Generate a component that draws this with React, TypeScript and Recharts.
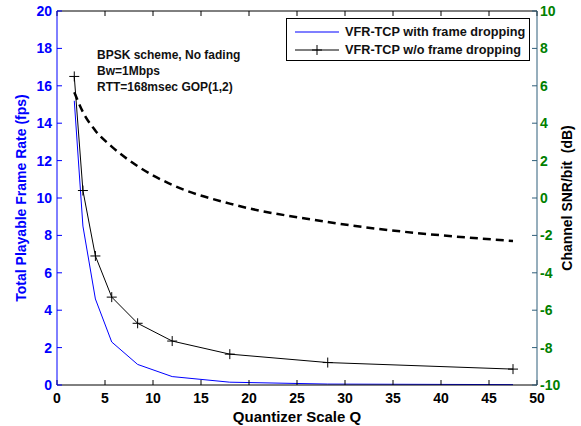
import React from 'react';
import { LineChart, Line, XAxis, YAxis, Label } from 'recharts';

// quantizer scale Q (x) and the three curves
const qValues = [1.8, 2.7, 4.0, 5.7, 8.4, 12.0, 18.0, 28.2, 47.5];
const withDropping = [15.2, 8.5, 4.6, 2.3, 1.1, 0.45, 0.15, 0.05, 0.02];
const withoutDropping = [16.5, 10.4, 6.9, 4.7, 3.3, 2.35, 1.65, 1.2, 0.85];
const snrDb = [5.65, 4.6, 3.6, 2.75, 1.7, 0.7, -0.3, -1.28, -2.3];

const xTicks = [0, 5, 10, 15, 20, 25, 30, 35, 40, 45, 50];
const leftTicks = [0, 2, 4, 6, 8, 10, 12, 14, 16, 18, 20];
const rightTicks = [-10, -8, -6, -4, -2, 0, 2, 4, 6, 8, 10];

const notes = ['BPSK scheme, No fading', 'Bw=1Mbps', 'RTT=168msec GOP(1,2)'];
const legendNames = ['VFR-TCP with frame dropping', 'VFR-TCP w/o frame dropping'];

const data = qValues.map((q, i) => ({
  q,
  withDrop: withDropping[i],
  withoutDrop: withoutDropping[i],
  snr: snrDb[i],
}));

const FONT = "'Liberation Sans', Arial, sans-serif";
const BLUE = '#0000ff';
const GREEN = '#008000';
const RIGHT_AXIS = '#2f5f7a';

const PlusDot = (props: any) => {
  const { cx, cy, index } = props;
  if (cx == null || cy == null) return <g key={`p-${index}`} />;
  return (
    <path
      key={`p-${index}`}
      d={`M${cx - 5},${cy}h10M${cx},${cy - 5}v10`}
      stroke="#000"
      strokeWidth={1}
      fill="none"
    />
  );
};

const RotatedLabel = (text: string, dx: number, color: string) => (props: any) => {
  const vb = props.viewBox;
  const x = vb.x + dx;
  const y = vb.y + vb.height / 2;
  return (
    <text
      x={x}
      y={y}
      transform={`rotate(-90 ${x} ${y})`}
      textAnchor="middle"
      dominantBaseline="central"
      fill={color}
      fontSize={14}
      fontWeight="bold"
      fontFamily={FONT}
    >
      {text}
    </text>
  );
};

export default function App() {
  return (
    <div
      style={{
        position: 'absolute',
        left: 0,
        top: 0,
        width: 581,
        height: 426,
        background: '#fff',
        fontFamily: FONT,
      }}
    >
      <LineChart width={581} height={426} data={data} margin={{ top: 0, right: 0, bottom: 0, left: 0 }}>
        <XAxis
          dataKey="q"
          type="number"
          domain={[0, 50]}
          ticks={xTicks}
          interval={0}
          stroke="#000"
          height={41}
          tickSize={-5}
          tickMargin={13}
          tick={{ fill: '#000', fontSize: 14, fontWeight: 'bold', fontFamily: FONT }}
        >
          <Label
            value="Quantizer Scale Q"
            position="insideBottom"
            offset={4}
            fill="#000"
            fontSize={15}
            fontWeight="bold"
            fontFamily={FONT}
          />
        </XAxis>
        <XAxis
          xAxisId="top"
          dataKey="q"
          type="number"
          orientation="top"
          domain={[0, 50]}
          ticks={xTicks}
          interval={0}
          stroke="#000"
          height={11}
          tickSize={-5}
          tickFormatter={() => ''}
        />
        <YAxis
          yAxisId="left"
          type="number"
          domain={[0, 20]}
          ticks={leftTicks}
          interval={0}
          width={57}
          stroke={BLUE}
          tickSize={-5}
          tickMargin={10}
          tick={{ fill: BLUE, fontSize: 14, fontWeight: 'bold', fontFamily: FONT }}
        >
          <Label content={RotatedLabel('Total Playable Frame Rate (fps)', 21, BLUE)} />
        </YAxis>
        <YAxis
          yAxisId="right"
          orientation="right"
          type="number"
          domain={[-10, 10]}
          ticks={rightTicks}
          interval={0}
          width={44}
          stroke={RIGHT_AXIS}
          tickSize={-5}
          tickMargin={8}
          tick={{ fill: GREEN, fontSize: 14, fontWeight: 'bold', fontFamily: FONT }}
        >
          <Label content={RotatedLabel('Channel SNR/bit \u00a0(dB)', 30, '#000')} />
        </YAxis>
        <Line
          yAxisId="left"
          dataKey="withDrop"
          type="linear"
          stroke={BLUE}
          strokeWidth={1}
          dot={false}
          isAnimationActive={false}
        />
        <Line
          yAxisId="left"
          dataKey="withoutDrop"
          type="linear"
          stroke="#000"
          strokeWidth={1}
          dot={PlusDot}
          isAnimationActive={false}
        />
        <Line
          yAxisId="right"
          dataKey="snr"
          type="monotone"
          stroke="#000"
          strokeWidth={2.5}
          strokeDasharray="8 5"
          dot={false}
          isAnimationActive={false}
        />
      </LineChart>

      {/* text notes top-left of the plot */}
      <div style={{ position: 'absolute', left: 97, top: 47, fontSize: 12, fontWeight: 'bold', color: '#111', lineHeight: '16px' }}>
        {notes.map((n) => (
          <div key={n} style={{ whiteSpace: 'nowrap' }}>{n}</div>
        ))}
      </div>

      {/* legend box */}
      <div
        style={{
          position: 'absolute',
          left: 286,
          top: 18,
          width: 242,
          height: 41,
          border: '1px solid #000',
          background: '#fff',
          fontSize: 12.7,
          fontWeight: 'bold',
          color: '#111',
        }}
      >
        {legendNames.map((name, i) => (
          <div key={name} style={{ position: 'absolute', left: 8, top: 4 + i * 18, height: 18, display: 'flex', alignItems: 'center', whiteSpace: 'nowrap' }}>
            <svg width={44} height={14} style={{ marginRight: 6 }}>
              <line x1={0} y1={7} x2={44} y2={7} stroke={i === 0 ? '#7f7fff' : '#000'} strokeWidth={i === 0 ? 2 : 1} />
              {i === 1 && <path d="M22,2v10M17,7h10" stroke="#000" strokeWidth={1} />}
            </svg>
            {name}
          </div>
        ))}
      </div>
    </div>
  );
}
